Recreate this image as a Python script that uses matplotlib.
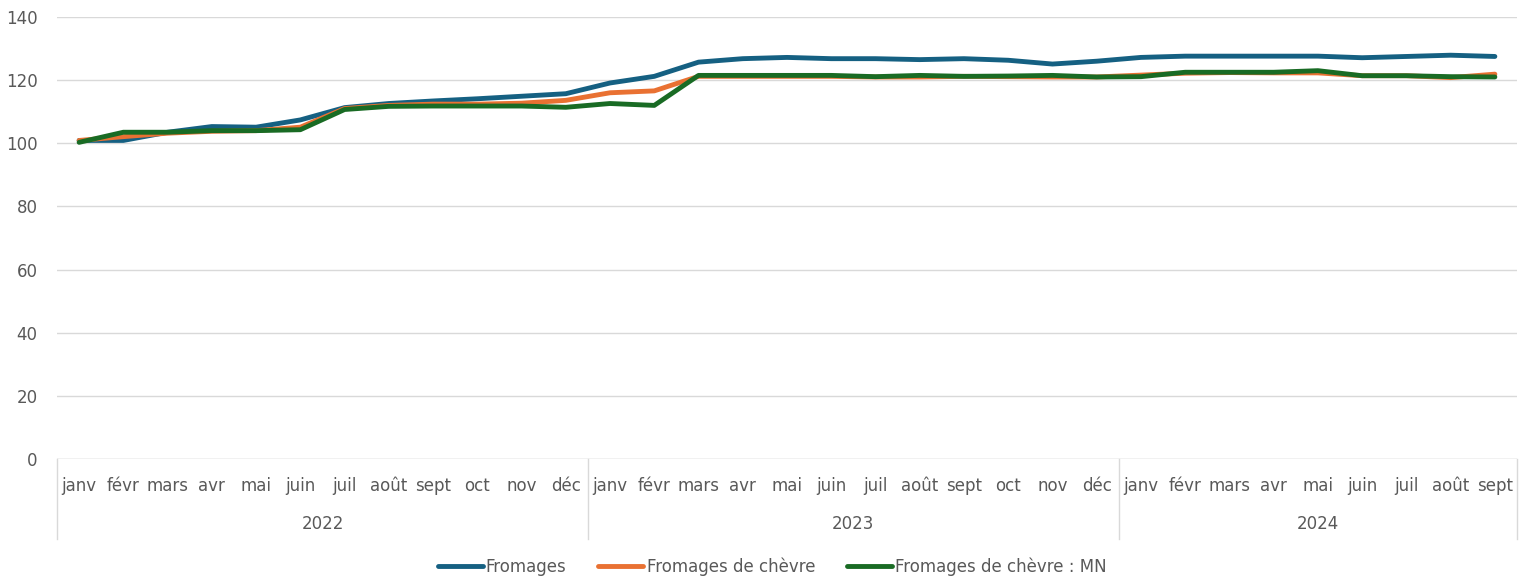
import numpy as np
import matplotlib
matplotlib.use("Agg")
import matplotlib.pyplot as plt
import matplotlib.transforms as mtransforms

plt.rcParams['font.family'] = ['DejaVu Sans']

# --- Data ---
months = ["janv", "févr", "mars", "avr", "mai", "juin", "juil", "août", "sept", "oct", "nov", "déc"]
years = ["2022", "2023", "2024"]
month_labels = months + months + months[:9]

fromages = [100.9, 100.9, 103.5, 105.3, 105.1, 107.4, 111.3, 112.6, 113.4, 114.1, 114.9, 115.7,
            119.1, 121.2, 125.7, 126.8, 127.2, 126.8, 126.8, 126.5, 126.8, 126.3, 125.1, 126.0,
            127.2, 127.6, 127.6, 127.6, 127.6, 127.1, 127.5, 127.9, 127.5]
chevre = [100.9, 102.1, 103.2, 103.8, 104.0, 105.1, 111.0, 112.0, 112.4, 112.4, 112.7, 113.6,
          116.0, 116.6, 121.2, 121.2, 121.2, 121.2, 121.0, 121.0, 121.2, 121.1, 121.0, 121.0,
          121.6, 122.2, 122.4, 122.3, 122.3, 121.4, 121.4, 120.8, 121.9]
chevre_mn = [100.3, 103.5, 103.5, 104.0, 104.0, 104.3, 110.7, 111.7, 111.8, 111.8, 111.8, 111.4,
             112.6, 112.0, 121.5, 121.5, 121.5, 121.5, 121.1, 121.5, 121.2, 121.3, 121.5, 121.0,
             121.1, 122.5, 122.5, 122.5, 123.0, 121.4, 121.4, 121.1, 121.0]

colors = {"Fromages": "#156082", "Fromages de chèvre": "#E97132", "Fromages de chèvre : MN": "#196B24"}

fig = plt.figure(figsize=(15.29, 5.83), dpi=100)
ax = fig.add_axes([57 / 1529, 124 / 583, 1460 / 1529, 442 / 583])

x = np.arange(len(month_labels))
for name, vals in [("Fromages", fromages), ("Fromages de chèvre", chevre),
                   ("Fromages de chèvre : MN", chevre_mn)]:
    ax.plot(x, vals, color=colors[name], lw=3.5, label=name, solid_capstyle='round', solid_joinstyle='round')

ax.set_xlim(-0.5, len(month_labels) - 0.5)
ax.set_ylim(0, 140)
ax.set_yticks(np.arange(0, 141, 20))
ax.grid(axis='y', color='#D9D9D9', lw=1)
ax.set_axisbelow(True)
for s in ax.spines.values():
    s.set_visible(False)
ax.tick_params(axis='both', length=0, labelsize=12, colors='#595959')
ax.tick_params(axis='y', pad=14)
ax.set_xticks(x)
ax.set_xticklabels(month_labels)
ax.tick_params(axis='x', pad=13)

# multi-level category axis
trans = mtransforms.blended_transform_factory(ax.transData, ax.transAxes)
ax.axhline(0, color='#D9D9D9', lw=1)
bounds = [-0.5, 11.5, 23.5, 32.5]
for b in bounds:
    ax.plot([b, b], [0, -0.18], color='#D9D9D9', lw=1, transform=trans, clip_on=False)
for i, yr in enumerate(years):
    mid = (bounds[i] + bounds[i + 1]) / 2
    ax.text(mid, -0.147, yr, transform=trans, ha='center', va='center', fontsize=12, color='#595959')

fig.legend(loc='lower center', bbox_to_anchor=(0.505, -0.014), ncol=3, frameon=False,
           fontsize=12, handlelength=2.7, handletextpad=0.2, columnspacing=1.9,
           labelcolor='#595959')

fig.savefig("out.png", dpi=100)
